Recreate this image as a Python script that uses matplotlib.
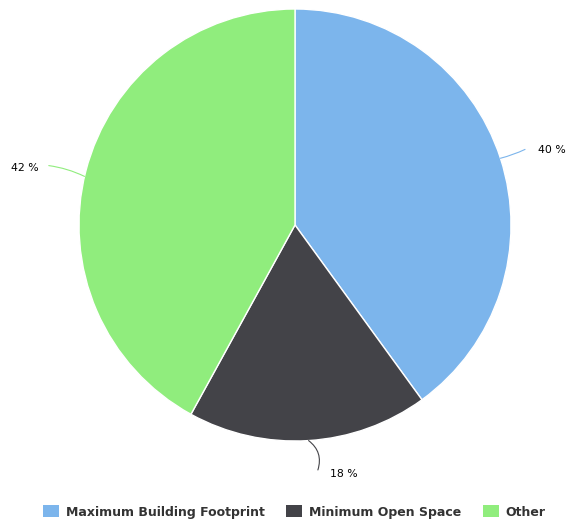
import matplotlib.pyplot as plt
import numpy as np
from matplotlib.patches import Patch

labels = ["Maximum Building Footprint", "Minimum Open Space", "Other"]
values = [40, 18, 42]
colors = ["#7cb5ec", "#434348", "#90ed7d"]

W, H = 568, 523
DPI = 100

fig = plt.figure(figsize=(W / DPI, H / DPI), dpi=DPI)
# pie box in pixels: x 79..511, y 9..441 (from top)
ax = fig.add_axes([79 / W, 1 - 441 / H, 432 / W, 432 / H])

wedges, _ = ax.pie(values, colors=colors, startangle=90, counterclock=False,
                   radius=1.0,
                   wedgeprops=dict(edgecolor="white", linewidth=1.0))
ax.set_xlim(-1, 1)
ax.set_ylim(-1, 1)
ax.set_aspect("equal")
ax.axis("off")

# label anchor (angle on the rim, deg) and text offset (axes data units)
anchors = [18, -86.4, 167]
text_pos = [(1.19, 0.347), (0.225, -1.153), (-1.25, 0.262)]
line_end = [(1.065, 0.35), (0.106, -1.134), (-1.14, 0.275)]
rads = [-0.05, 0.35, -0.08]

for v, a, tp, le, r, c in zip(values, anchors, text_pos, line_end, rads, colors):
    th = np.deg2rad(a)
    x0, y0 = np.cos(th), np.sin(th)
    ax.annotate("", xy=(x0, y0), xytext=le,
                arrowprops=dict(arrowstyle="-", color=c, lw=0.8,
                                connectionstyle=f"arc3,rad={r}",
                                shrinkA=0, shrinkB=0))
    ax.text(tp[0], tp[1], f"{v} %", fontsize=7.8, color="#000000",
            ha="center", va="center", clip_on=False)

handles = [Patch(facecolor=c, edgecolor="none") for c in colors]
leg = fig.legend(handles, labels, loc="center", bbox_to_anchor=(0.518, 1 - 512 / H),
                 ncol=3, frameon=False, handlelength=1.25, handleheight=1.05,
                 handletextpad=0.55, columnspacing=1.75,
                 prop=dict(weight="bold", size=9))
for t in leg.get_texts():
    t.set_color("#333333")

plt.savefig("out.png", dpi=DPI)
